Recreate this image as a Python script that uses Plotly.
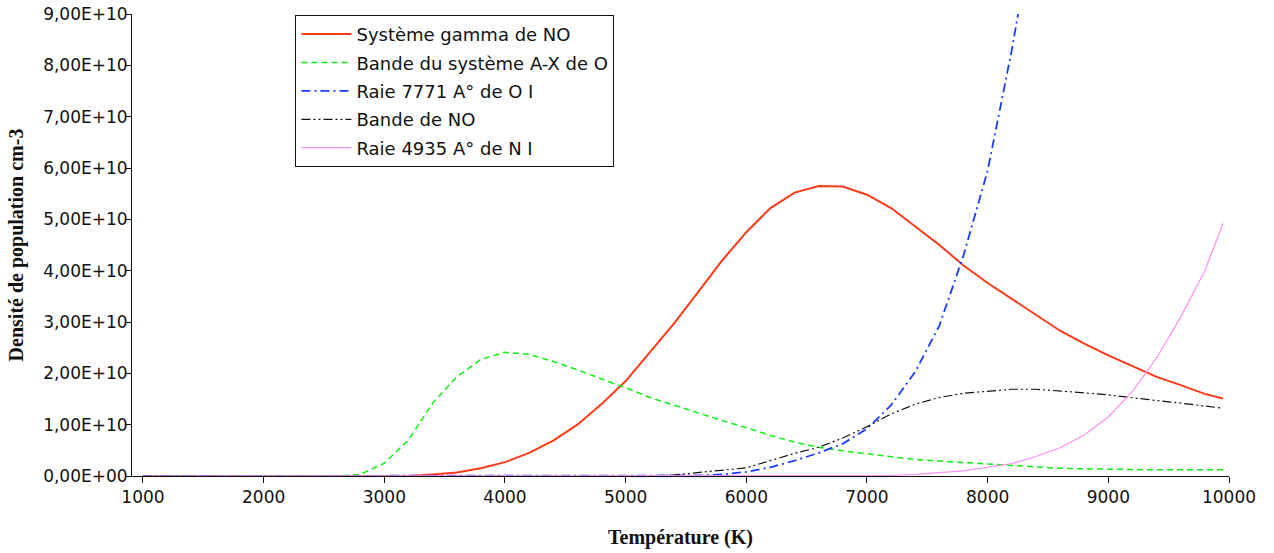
import plotly.graph_objects as go

# Temperature grid (K)
temperature = [1000, 1500, 2000, 2500, 2600, 2800, 3000, 3200, 3400, 3600, 3800,
               4000, 4200, 4400, 4600, 4800, 5000, 5200, 5400, 5600, 5800,
               6000, 6200, 6400, 6600, 6800, 7000, 7200, 7400, 7600, 7800,
               8000, 8200, 8400, 8600, 8800, 9000, 9200, 9400, 9600, 9800, 9950]

# Population densities, in units of 1e10 cm-3
gamma_no = [0, 0, 0, 0, 0, 0, 0, 0, 0.03, 0.07, 0.15,
            0.27, 0.45, 0.69, 1.00, 1.40, 1.85, 2.40, 2.97, 3.58, 4.20,
            4.75, 5.22, 5.52, 5.65, 5.64, 5.48, 5.22, 4.86, 4.50, 4.10,
            3.76, 3.45, 3.14, 2.83, 2.58, 2.35, 2.14, 1.93, 1.77, 1.60, 1.51]

bande_ax_o = [0, 0, 0, 0, 0, 0.03, 0.25, 0.70, 1.42, 1.93, 2.27,
              2.41, 2.37, 2.23, 2.07, 1.89, 1.72, 1.53, 1.38, 1.22, 1.08,
              0.94, 0.79, 0.66, 0.56, 0.49, 0.43, 0.37, 0.32, 0.29, 0.26,
              0.23, 0.21, 0.17, 0.15, 0.14, 0.13, 0.13, 0.12, 0.12, 0.12, 0.12]

raie_7771_oi = [0, 0, 0, 0, 0, 0, 0, 0, 0, 0, 0,
                0, 0, 0, 0, 0, 0, 0, 0, 0.01, 0.03,
                0.08, 0.17, 0.30, 0.45, 0.63, 0.92, 1.38, 2.03, 2.93, 4.30,
                5.95, 8.30, 11.0, None, None, None, None, None, None, None, None]

bande_no = [0, 0, 0, 0, 0, 0, 0, 0, 0, 0, 0,
            0, 0, 0, 0, 0, 0, 0, 0.02, 0.07, 0.11,
            0.16, 0.30, 0.44, 0.56, 0.74, 0.96, 1.21, 1.40, 1.53, 1.61,
            1.65, 1.69, 1.69, 1.66, 1.62, 1.58, 1.52, 1.47, 1.42, 1.37, 1.32]

raie_4935_ni = [0, 0, 0, 0, 0, 0, 0, 0, 0, 0, 0,
                0, 0, 0, 0, 0, 0, 0, 0, 0, 0,
                0, 0, 0, 0, 0, 0, 0.01, 0.03, 0.06, 0.10,
                0.17, 0.24, 0.38, 0.55, 0.80, 1.15, 1.65, 2.30, 3.10, 4.00, 4.92]

x_ticks = [1000, 2000, 3000, 4000, 5000, 6000, 7000, 8000, 9000, 10000]
y_ticks = [0, 1e10, 2e10, 3e10, 4e10, 5e10, 6e10, 7e10, 8e10, 9e10]
y_tick_text = ["0,00E+00", "1,00E+10", "2,00E+10", "3,00E+10", "4,00E+10",
               "5,00E+10", "6,00E+10", "7,00E+10", "8,00E+10", "9,00E+10"]

SCALE = 1e10


def scaled(values):
    return [None if v is None else v * SCALE for v in values]


series = [
    ("Système gamma de NO", gamma_no, "#FF3A17", 2, "solid"),
    ("Bande du système A-X de O", bande_ax_o, "#10F010", 1.5, "6px,4px"),
    ("Raie 7771 A° de O I", raie_7771_oi, "#1A3CFF", 1.8, "9px,4px,2px,4px"),
    ("Bande de NO", bande_no, "#111111", 1.2, "9px,3px,2px,3px,2px,3px"),
    ("Raie 4935 A° de N I", raie_4935_ni, "#F790F2", 1.2, "solid"),
]

fig = go.Figure()
for i, (name, vals, color, width, dash) in enumerate(series):
    fig.add_trace(go.Scatter(
        x=temperature, y=scaled(vals), name=name, mode="lines",
        line=dict(color=color, width=width, dash=dash),
        legendgroup=f"g{i}",
    ))

tick_font = dict(family="DejaVu Sans", size=17, color="#111111")
title_font = dict(family="Liberation Serif", size=20, color="#111111")

fig.update_layout(
    width=1274, height=553,
    margin=dict(l=132, r=45, t=14, b=77),
    paper_bgcolor="white", plot_bgcolor="white",
    showlegend=True,
    legend=dict(
        x=0.149, y=0.998, xanchor="left", yanchor="top",
        bgcolor="white", bordercolor="#111111", borderwidth=1,
        font=dict(family="DejaVu Sans", size=18, color="#111111"),
        tracegroupgap=2, itemwidth=50,
    ),
    xaxis=dict(
        range=[909, 10000], tickvals=x_ticks,
        ticktext=[str(t) for t in x_ticks],
        showgrid=False, zeroline=False, automargin=False,
        showline=True, linecolor="#111111", linewidth=1,
        ticks="outside", ticklen=6, tickcolor="#111111",
        tickfont=tick_font,
        title=dict(text="<b>Température (K)</b>", font=title_font, standoff=23),
    ),
    yaxis=dict(
        range=[0, 9e10], tickvals=y_ticks, ticktext=y_tick_text,
        showgrid=False, zeroline=False, automargin=False,
        showline=True, linecolor="#111111", linewidth=1,
        ticks="outside", ticklen=6, tickcolor="#111111",
        tickfont=tick_font, ticklabelstandoff=-6,
        title=dict(text="<b>Densité de population cm-3</b>", font=title_font, standoff=14),
    ),
)

fig.write_html("out.html")
